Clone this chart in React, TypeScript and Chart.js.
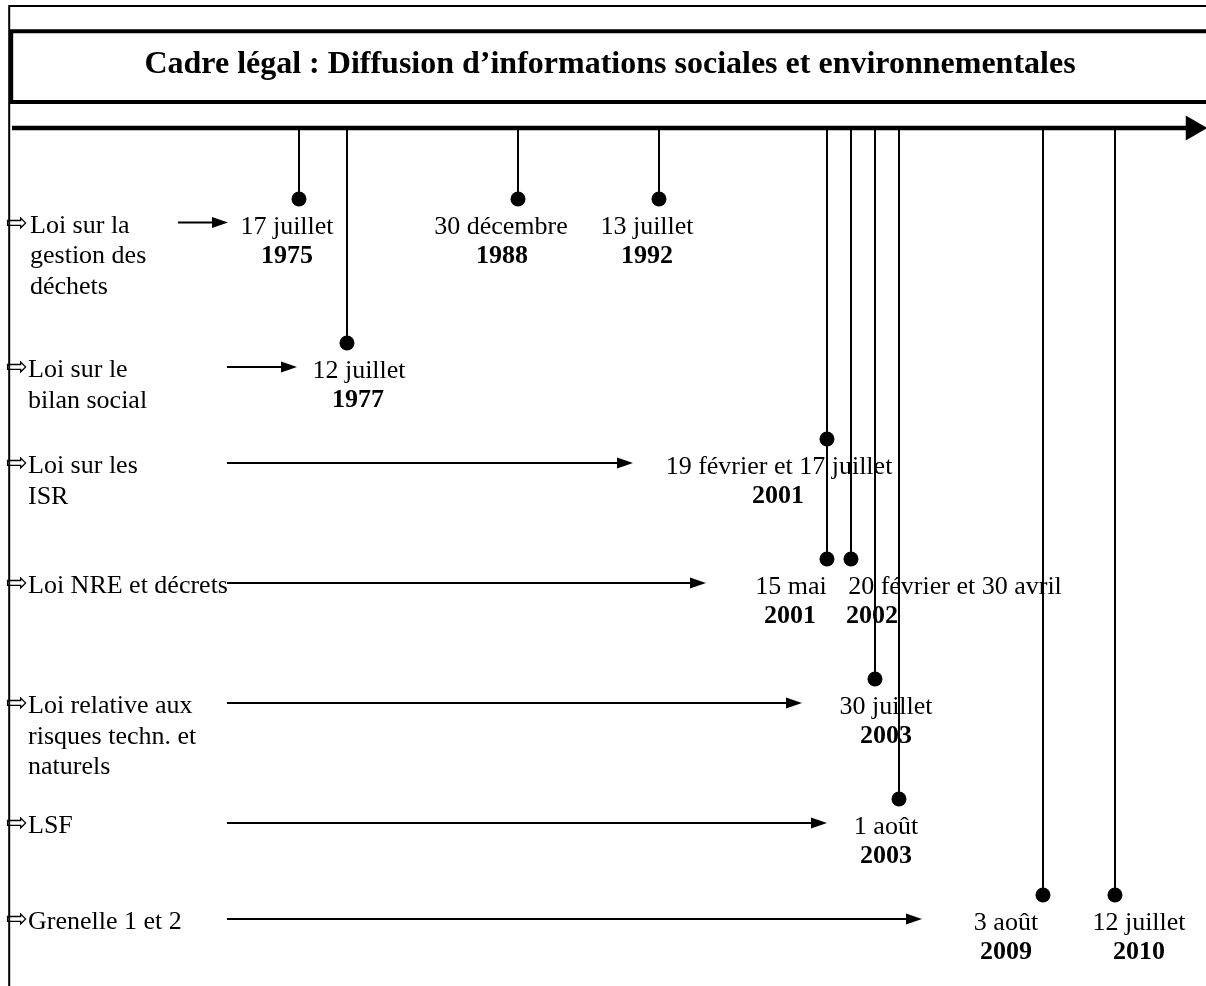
import React, { useEffect, useRef } from "react";
import { Chart, registerables } from "chart.js";

Chart.register(...registerables);

// ---- Data ----
const titleText = "Cadre légal : Diffusion d’informations sociales et environnementales";

const lawLabels: string[][] = [
  ["Loi sur la", "gestion des", "déchets"],
  ["Loi sur le", "bilan social"],
  ["Loi sur les", "ISR"],
  ["Loi NRE et décrets"],
  ["Loi relative aux", "risques techn. et", "naturels"],
  ["LSF"],
  ["Grenelle 1 et 2"],
];
const lawRowY = [222.5, 367, 463, 583, 703, 823, 919];
const lawArrowStart = [178, 227, 227, 227, 227, 227, 227];
const lawArrowTip = [228, 297, 633, 706, 802, 827, 922];

const eventDates = [
  "17 juillet",
  "12 juillet",
  "30 décembre",
  "13 juillet",
  "19 février et 17 juillet",
  "15 mai",
  "20 février et 30 avril",
  "30 juillet",
  "1 août",
  "3 août",
  "12 juillet",
];
const eventYears = ["1975", "1977", "1988", "1992", "2001", "2001", "2002", "2003", "2003", "2009", "2010"];
const eventStemX = [299, 347, 518, 659, 827, 827, 851, 875, 899, 1043, 1115];
const eventDotY = [199, 343, 199, 199, 439, 559, 559, 679, 799, 895, 895];
const eventDateX = [287, 359, 501, 647, 779, 791, 955, 886, 886, 1006, 1139];
const eventYearX = [287, 358, 502, 647, 778, 790, 872, 886, 886, 1006, 1139];

const timelineY = 128;
const timelineStart = 12;
const timelineEnd = 1190;
const timelineHeadX = 1193;

const CANVAS_W = 1206;
const CANVAS_H = 986;
const SERIF = '"Liberation Serif", "Times New Roman", serif';

const drawPlugin = {
  id: "timelineDecor",
  beforeDatasetsDraw(chart: any) {
    const { ctx, scales } = chart;
    const px = (v: number) => scales.x.getPixelForValue(v);
    const py = (v: number) => scales.y.getPixelForValue(v);
    ctx.save();
    ctx.strokeStyle = "#000";
    ctx.fillStyle = "#000";
    // outer frame (left + top)
    ctx.lineWidth = 2;
    ctx.beginPath();
    ctx.moveTo(px(9.2), py(CANVAS_H + 5));
    ctx.lineTo(px(9.2), py(6));
    ctx.lineTo(px(CANVAS_W + 5), py(6));
    ctx.stroke();
    // title box
    ctx.lineWidth = 4;
    ctx.beginPath();
    ctx.moveTo(px(CANVAS_W + 5), py(31.3));
    ctx.lineTo(px(11.2), py(31.3));
    ctx.lineTo(px(11.2), py(102));
    ctx.lineTo(px(CANVAS_W + 5), py(102));
    ctx.stroke();
    // title
    ctx.font = `bold 32px ${SERIF}`;
    ctx.textAlign = "center";
    ctx.textBaseline = "alphabetic";
    ctx.fillText(titleText, px(610), py(72.7));

    // law labels
    lawLabels.forEach((lines, i) => {
      const base = lawRowY[i] + 10;
      ctx.font = `26px "DejaVu Sans", sans-serif`;
      ctx.textAlign = "left";
      ctx.fillText("⇨", px(6), py(lawRowY[i] + 8));
      ctx.font = `26px ${SERIF}`;
      lines.forEach((ln, j) => {
        ctx.fillText(ln, px(i === 0 ? 30 : 28), py(base + j * 30.5));
      });
    });

    // event labels
    ctx.textAlign = "center";
    eventDates.forEach((d, i) => {
      ctx.font = `26px ${SERIF}`;
      ctx.fillText(d, px(eventDateX[i]), py(eventDotY[i] + 35));
      ctx.font = `bold 26px ${SERIF}`;
      ctx.fillText(eventYears[i], px(eventYearX[i]), py(eventDotY[i] + 64));
    });
    ctx.restore();
  },
  afterDatasetsDraw(chart: any) {
    const { ctx, scales } = chart;
    const px = (v: number) => scales.x.getPixelForValue(v);
    const py = (v: number) => scales.y.getPixelForValue(v);
    ctx.save();
    ctx.fillStyle = "#000";
    lawArrowTip.forEach((tip, i) => {
      const y = py(lawRowY[i]);
      ctx.beginPath();
      ctx.moveTo(px(tip), y);
      ctx.lineTo(px(tip - 16), y - 5.5);
      ctx.lineTo(px(tip - 16), y + 5.5);
      ctx.closePath();
      ctx.fill();
    });
    ctx.restore();
  },
};

export default function App() {
  const ref = useRef<HTMLCanvasElement | null>(null);

  useEffect(() => {
    if (!ref.current) return;
    const datasets: any[] = [];

    // timeline axis
    datasets.push({
      type: "line",
      data: [
        { x: timelineStart, y: timelineY },
        { x: timelineEnd, y: timelineY },
      ],
      borderColor: "#000",
      borderWidth: 4.5,
      pointRadius: 0,
      order: 3,
    });
    datasets.push({
      type: "scatter",
      data: [{ x: timelineHeadX, y: timelineY }],
      pointStyle: "triangle",
      rotation: 90,
      pointRadius: 14.5,
      backgroundColor: "#000",
      borderColor: "#000",
      borderWidth: 0,
      order: 2,
    });

    // stems
    eventStemX.forEach((sx, i) => {
      datasets.push({
        type: "line",
        data: [
          { x: sx, y: timelineY },
          { x: sx, y: eventDotY[i] },
        ],
        borderColor: "#000",
        borderWidth: 2,
        pointRadius: 0,
        order: 3,
      });
    });

    // law arrows shafts
    lawArrowTip.forEach((tip, i) => {
      datasets.push({
        type: "line",
        data: [
          { x: lawArrowStart[i], y: lawRowY[i] },
          { x: tip - 10, y: lawRowY[i] },
        ],
        borderColor: "#000",
        borderWidth: 2,
        pointRadius: 0,
        order: 3,
      });
    });

    // dots
    datasets.push({
      type: "scatter",
      data: eventStemX.map((sx, i) => ({ x: sx, y: eventDotY[i] })),
      pointRadius: 7.5,
      backgroundColor: "#000",
      borderColor: "#000",
      borderWidth: 0,
      order: 1,
    });

    const chart = new Chart(ref.current, {
      type: "scatter",
      data: { datasets },
      options: {
        responsive: false,
        animation: false,
        events: [],
        layout: { padding: 0, autoPadding: false },
        plugins: { legend: { display: false }, tooltip: { enabled: false }, title: { display: false } },
        scales: {
          x: { type: "linear", min: 0, max: CANVAS_W, display: false },
          y: { type: "linear", min: 0, max: CANVAS_H, reverse: true, display: false },
        },
      },
      plugins: [drawPlugin],
    } as any);
    return () => chart.destroy();
  }, []);

  return (
    <div style={{ position: "absolute", left: 0, top: 0, width: CANVAS_W, height: CANVAS_H, background: "#fff" }}>
      <canvas ref={ref} width={CANVAS_W} height={CANVAS_H} style={{ width: CANVAS_W, height: CANVAS_H }} />
    </div>
  );
}
